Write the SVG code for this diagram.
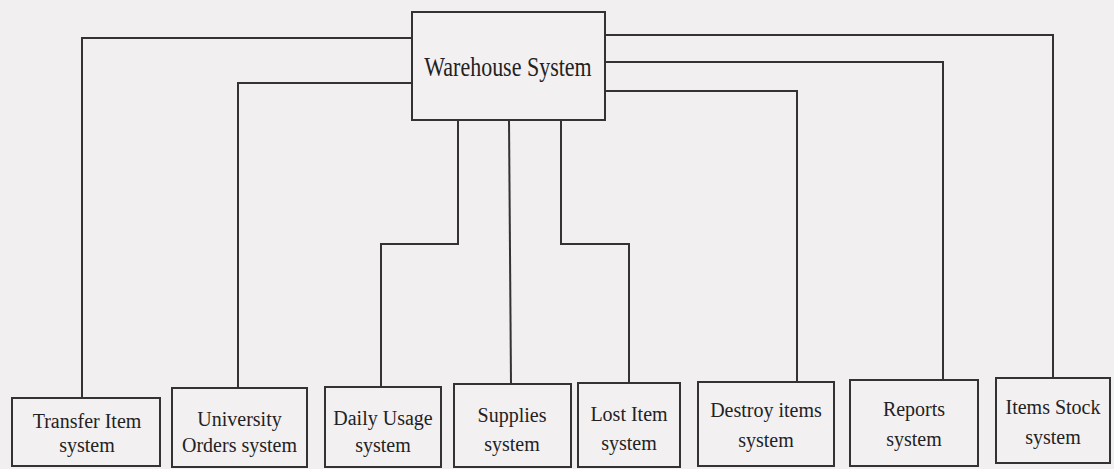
<svg xmlns="http://www.w3.org/2000/svg" width="1114" height="469" viewBox="0 0 1114 469">
<style>
.bg{fill:#f2eff1}
.box{fill:#f3f0f2;stroke:#333;stroke-width:2}
.ln{fill:none;stroke:#333;stroke-width:2}
.t{font-family:"Liberation Serif","Times New Roman",serif;font-size:20px;fill:#222;text-anchor:middle}
.title{font-family:"Liberation Serif","Times New Roman",serif;font-size:22px;fill:#222;text-anchor:middle}
</style>
<rect class="bg" x="0" y="0" width="1114" height="469"/>
<g id="connectors">
<polyline class="ln" points="412,38 82,38 82,398"/>
<polyline class="ln" points="412,83 238,83 238,388"/>
<polyline class="ln" points="458,120 458,244 381,244 381,387"/>
<polyline class="ln" points="509,120 511,384"/>
<polyline class="ln" points="561,120 561,244 629,244 629,383"/>
<polyline class="ln" points="605,91 797,91 797,382"/>
<polyline class="ln" points="605,62 943,62 943,380"/>
<polyline class="ln" points="605,35 1053,35 1053,378"/>
</g>
<g id="warehouse">
<rect class="box" x="412" y="12" width="193" height="108"/>
<text class="title" transform="translate(508,76) scale(1,1.2)" x="0" y="0">Warehouse System</text>
</g>
<g id="transfer">
<rect class="box" x="12" y="398" width="148" height="68"/>
<text class="t" x="87" y="428">Transfer Item</text>
<text class="t" x="87" y="452">system</text>
</g>
<g id="university">
<rect class="box" x="172" y="388" width="135" height="79"/>
<text class="t" x="239.5" y="426">University</text>
<text class="t" x="239.5" y="452">Orders system</text>
</g>
<g id="daily">
<rect class="box" x="325" y="387" width="116" height="80"/>
<text class="t" x="383" y="425">Daily Usage</text>
<text class="t" x="383" y="452">system</text>
</g>
<g id="supplies">
<rect class="box" x="454" y="384" width="117" height="83"/>
<text class="t" x="512" y="422">Supplies</text>
<text class="t" x="512" y="451">system</text>
</g>
<g id="lost">
<rect class="box" x="578" y="383" width="102" height="84"/>
<text class="t" x="629" y="421">Lost Item</text>
<text class="t" x="629" y="450">system</text>
</g>
<g id="destroy">
<rect class="box" x="698" y="382" width="136" height="84"/>
<text class="t" x="766" y="417">Destroy items</text>
<text class="t" x="766" y="447">system</text>
</g>
<g id="reports">
<rect class="box" x="850" y="380" width="128" height="86"/>
<text class="t" x="914" y="416">Reports</text>
<text class="t" x="914" y="446">system</text>
</g>
<g id="itemsstock">
<rect class="box" x="996" y="378" width="114" height="85"/>
<text class="t" x="1053" y="414">Items Stock</text>
<text class="t" x="1053" y="444">system</text>
</g>
</svg>
